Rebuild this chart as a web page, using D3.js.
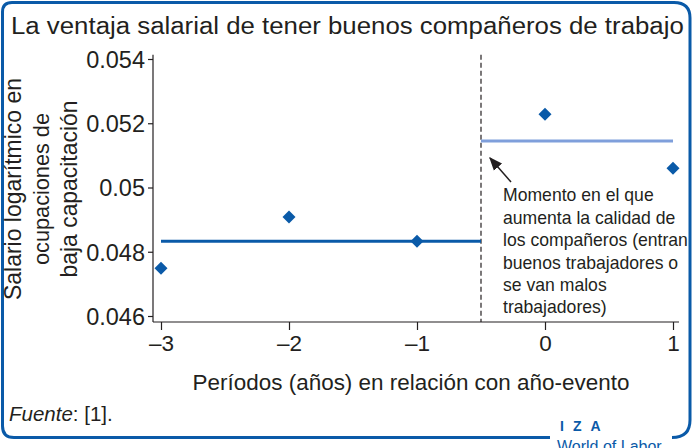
<!DOCTYPE html>
<html>
<head>
<meta charset="utf-8">
<script src="https://cdn.jsdelivr.net/npm/d3@7"></script>
<style>
  body { margin: 0; background: #fff; }
  text { font-family: "Liberation Sans", Arial, sans-serif; fill: #231f20; }
</style>
</head>
<body>
<div id="chart"></div>
<script>

// periods relative to the event year
var periods = [-3, -2, -1, 0, 1];
var wages = [0.04749, 0.04908, 0.04833, 0.05228, 0.05060];

// mean before / after the event
var meanBefore = 0.04833, meanAfter = 0.05145;
var eventX = -0.5;

var yTicks = [0.046, 0.048, 0.05, 0.052, 0.054];
var xTicks = [-3, -2, -1, 0, 1];

var noteLines = ["Momento en el que", "aumenta la calidad de", "los compañeros (entran",
                 "buenos trabajadores o", "se van malos", "trabajadores)"];
var yTitleLines = ["Salario logarítmico en", "ocupaciones de", "baja capacitación"];

var width = 695, height = 448;
var blue = "#0a5aa8", lightBlue = "#7f9fdb", ink = "#231f20";

var svg = d3.select("#chart")
  .append("svg")
  .attr("width", width)
  .attr("height", height);

// squeeze a text horizontally so it gets the width of the original (condensed font)
function squeeze(sel, w, x0) {
  var k = w / sel.node().getComputedTextLength();
  sel.attr("transform", "translate(" + x0 + ",0) scale(" + k + ",1) translate(" + (-x0) + ",0)");
  return k;
}

// frame
var frame = d3.path();
frame.moveTo(550, 437.5);
frame.lineTo(14, 437.5);
frame.quadraticCurveTo(2.5, 437.5, 2.5, 426);
frame.lineTo(2.5, 12);
frame.quadraticCurveTo(2.5, 2.5, 12, 2.5);
frame.lineTo(674, 2.5);
frame.quadraticCurveTo(690, 2.5, 690, 18);
frame.lineTo(690, 420);
frame.quadraticCurveTo(690, 437.5, 672, 437.5);
svg.append("path")
  .attr("d", frame.toString())
  .attr("fill", "none")
  .attr("stroke", blue)
  .attr("stroke-width", 3);

var title = svg.append("text")
  .attr("x", 11).attr("y", 34)
  .style("font-size", "24.5px")
  .text("La ventaja salarial de tener buenos compañeros de trabajo");
squeeze(title, 673, 11);

var x = d3.scaleLinear().domain([-3, 1]).range([161, 673]);
var y = d3.scaleLinear().domain([0.046, 0.054]).range([316, 59]);

// axes
var yAxis = svg.append("g")
  .attr("transform", "translate(153,0)")
  .call(d3.axisLeft(y).tickValues(yTicks).tickSize(5).tickPadding(3)
    .tickFormat(function(d) { return String(+d.toFixed(3)); }));
yAxis.select(".domain").attr("d", "M0," + y(0.04581) + "V" + y(0.05413));
yAxis.selectAll("text").style("font-size", "23.5px").attr("fill", ink).attr("dy", "0.36em");

var xAxis = svg.append("g")
  .attr("transform", "translate(0,322)")
  .call(d3.axisBottom(x).tickValues(xTicks).tickSize(8).tickPadding(5)
    .tickFormat(function(d) { return d < 0 ? "\u2013" + Math.abs(d) : d; }));
xAxis.select(".domain").attr("d", "M153,0H" + x(1.047));
xAxis.selectAll("text").style("font-size", "22.5px").attr("fill", ink);
svg.selectAll(".domain, .tick line").attr("stroke", ink).attr("stroke-width", 1.2);

// event line
svg.append("line")
  .attr("x1", x(eventX)).attr("x2", x(eventX))
  .attr("y1", y(0.05413)).attr("y2", 322)
  .attr("stroke", ink)
  .attr("stroke-dasharray", "5,3")
  .attr("stroke-width", 1.2);

// mean lines
svg.append("line")
  .attr("x1", x(-3)).attr("x2", x(eventX))
  .attr("y1", y(meanBefore)).attr("y2", y(meanBefore))
  .attr("stroke", blue).attr("stroke-width", 3);
svg.append("line")
  .attr("x1", x(eventX)).attr("x2", x(1))
  .attr("y1", y(meanAfter)).attr("y2", y(meanAfter))
  .attr("stroke", lightBlue).attr("stroke-width", 3);

// diamonds
svg.selectAll(".pt")
  .data(periods)
  .enter().append("path")
  .attr("class", "pt")
  .attr("d", "M0,-6.5L6.5,0L0,6.5L-6.5,0Z")
  .attr("transform", function(d, i) { return "translate(" + x(d) + "," + y(wages[i]) + ")"; })
  .attr("fill", blue);

// arrow
svg.append("defs").append("marker")
  .attr("id", "head")
  .attr("viewBox", "0 0 10 10")
  .attr("refX", 9).attr("refY", 5)
  .attr("markerWidth", 9).attr("markerHeight", 9)
  .attr("orient", "auto")
  .append("path")
  .attr("d", "M0,1L10,5L0,9Z")
  .attr("fill", ink);
svg.append("line")
  .attr("x1", 511).attr("y1", 182)
  .attr("x2", 490).attr("y2", 158)
  .attr("stroke", ink).attr("stroke-width", 1.5)
  .attr("marker-end", "url(#head)");

var note = svg.append("g").selectAll("text")
  .data(noteLines)
  .enter().append("text")
  .attr("x", 503)
  .attr("y", function(d, i) { return 201.5 + i * 22.4; })
  .style("font-size", "17.5px")
  .text(function(d) { return d; });
var kNote = 185 / note.filter(function(d, i) { return i == 2; }).node().getComputedTextLength();
note.attr("transform", "translate(503,0) scale(" + kNote + ",1) translate(-503,0)");

// axis titles
var xTitle = svg.append("text")
  .attr("x", 411).attr("y", 390)
  .attr("text-anchor", "middle")
  .style("font-size", "22.5px")
  .text("Períodos (años) en relación con año-evento");
squeeze(xTitle, 437, 411);

var yTitleLen = [222, 152, 177];
svg.append("g").selectAll("text")
  .data(yTitleLines)
  .enter().append("text")
  .attr("text-anchor", "middle")
  .style("font-size", "23px")
  .text(function(d) { return d; })
  .each(function(d, i) {
    var k = yTitleLen[i] / this.getComputedTextLength();
    d3.select(this).attr("transform", "translate(" + (21 + i * 28) + ",189) rotate(-90) scale(" + k + ",1)");
  });

// source
var src = svg.append("text").attr("x", 9).attr("y", 421).style("font-size", "20.5px");
src.append("tspan").style("font-style", "italic").text("Fuente");
src.append("tspan").text(": [1].");

// logo
svg.append("text")
  .attr("x", 560).attr("y", 431)
  .style("font-size", "14px").style("font-weight", "bold")
  .style("fill", blue)
  .attr("letter-spacing", "9px")
  .text("IZA");
svg.append("text")
  .attr("x", 557).attr("y", 452)
  .style("font-size", "16px")
  .style("fill", blue)
  .text("World of Labor");

</script>
</body>
</html>
